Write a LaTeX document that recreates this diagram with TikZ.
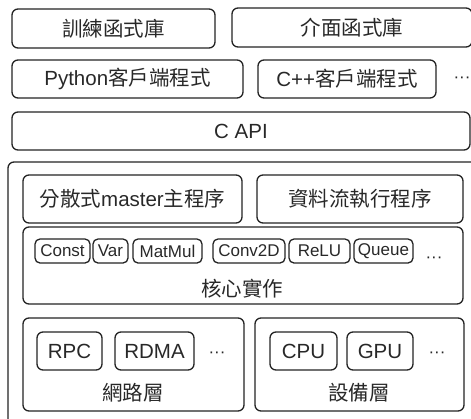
\documentclass[tikz,border=0pt]{standalone}
\usepackage{fontspec}
\setmainfont{Liberation Sans}
\newfontfamily\cjk{Noto Sans CJK TC}
\usetikzlibrary{positioning}
\definecolor{tfline}{RGB}{35,35,35}
\definecolor{tftext}{RGB}{40,40,40}
\newcommand{\zh}[1]{{\cjk #1}}

\tikzset{
  layer/.style={draw=tfline, line width=1.3pt, rounded corners=6pt,
    inner sep=0pt, text=tftext, font=\fontsize{20.5}{24}\selectfont},
  opbox/.style={layer, rounded corners=5pt, font=\fontsize{17}{19}\selectfont},
  caption/.style={text=tftext, font=\fontsize{20.5}{24}\selectfont},
  more/.style={text=tftext, font=\fontsize{17}{20}\selectfont}
}

\begin{document}
\begin{tikzpicture}[x=1pt, y=-1pt]
  \useasboundingbox (0,0) rectangle (471,418);

  % client libraries
  \node[layer, minimum width=203pt, minimum height=39pt] (train) at (113.5,28.5) {\zh{訓練函式庫}};
  \node[layer, minimum width=240pt, minimum height=39pt] (iface) at (352,27.5) {\zh{介面函式庫}};
  \node[layer, minimum width=231pt, minimum height=38pt] (pyclient) at (127.5,79) {Python\zh{客戶端程式}};
  \node[layer, minimum width=178pt, minimum height=38pt] (cppclient) at (347,79) {C++\zh{客戶端程式}};
  \node[more] (clientmore) at (462,80) {···};
  \node[layer, minimum width=458pt, minimum height=38pt] (capi) at (241,131) {C API};

  % runtime
  \node[layer, minimum width=472pt, minimum height=266pt] (runtime) at (244,295) {};
  \node[layer, minimum width=219pt, minimum height=48pt] (master) at (132.5,199) {\zh{分散式}master\zh{主程序}};
  \node[layer, minimum width=206pt, minimum height=48pt] (dataflow) at (360,199) {\zh{資料流執行程序}};

  % kernels
  \node[layer, minimum width=440pt, minimum height=77pt] (kernels) at (243,265.5) {};
  \node[opbox, minimum width=55pt, minimum height=24pt] (const) at (62.5,251) {Const};
  \node[opbox, minimum width=35pt, minimum height=24pt] (var) at (110.5,251) {Var};
  \node[opbox, minimum width=69pt, minimum height=24pt] (matmul) at (167.5,251) {MatMul};
  \node[opbox, minimum width=72pt, minimum height=24pt] (conv) at (249,251) {Conv2D};
  \node[opbox, minimum width=61pt, minimum height=24pt] (relu) at (319.5,251) {ReLU};
  \node[opbox, minimum width=59pt, minimum height=24pt] (queue) at (383.5,251) {Queue};
  \node[more] (opmore) at (434,260) {···};
  \node[caption] (kernelname) at (242,289) {\zh{核心實作}};

  % network and devices
  \node[layer, minimum width=221pt, minimum height=93pt] (network) at (133.5,364.5) {};
  \node[layer, minimum width=65pt, minimum height=38pt] (rpc) at (69.5,351) {RPC};
  \node[layer, minimum width=79pt, minimum height=38pt] (rdma) at (154.5,351) {RDMA};
  \node[more] (netmore) at (217,355) {···};
  \node[caption] (netname) at (133,393) {\zh{網路層}};

  \node[layer, minimum width=209pt, minimum height=93pt] (device) at (359.5,364.5) {};
  \node[layer, minimum width=67pt, minimum height=38pt] (cpu) at (303.5,351) {CPU};
  \node[layer, minimum width=66pt, minimum height=38pt] (gpu) at (380,351) {GPU};
  \node[more] (devmore) at (437,355) {···};
  \node[caption] (devname) at (359,393) {\zh{設備層}};
\end{tikzpicture}
\end{document}
